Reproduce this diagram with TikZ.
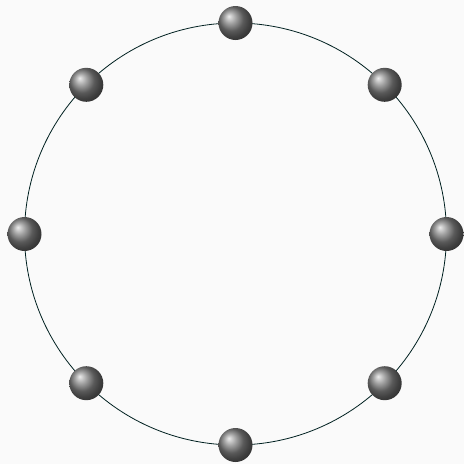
\documentclass[tikz,border=0pt]{standalone}
\usetikzlibrary{calc}
\begin{document}
\begin{tikzpicture}[x=1pt,y=-1pt,
  ball/.style={circle,inner sep=0pt,minimum size=34pt,shading=ball,ball color=black!50},
  ring/.style={draw=black!75!teal,line width=0.8pt}]
\fill[black!2!white] (0,0) rectangle (464,464);
\useasboundingbox (0,0) rectangle (464,464);
\coordinate (c) at (235.5,234);
\draw[ring] (c) circle[radius=211];
\foreach \a [count=\i] in {0,45,...,315}{
  \node[ball] (b\i) at ($(c)+(\a:211)$) {};
}
\end{tikzpicture}
\end{document}
